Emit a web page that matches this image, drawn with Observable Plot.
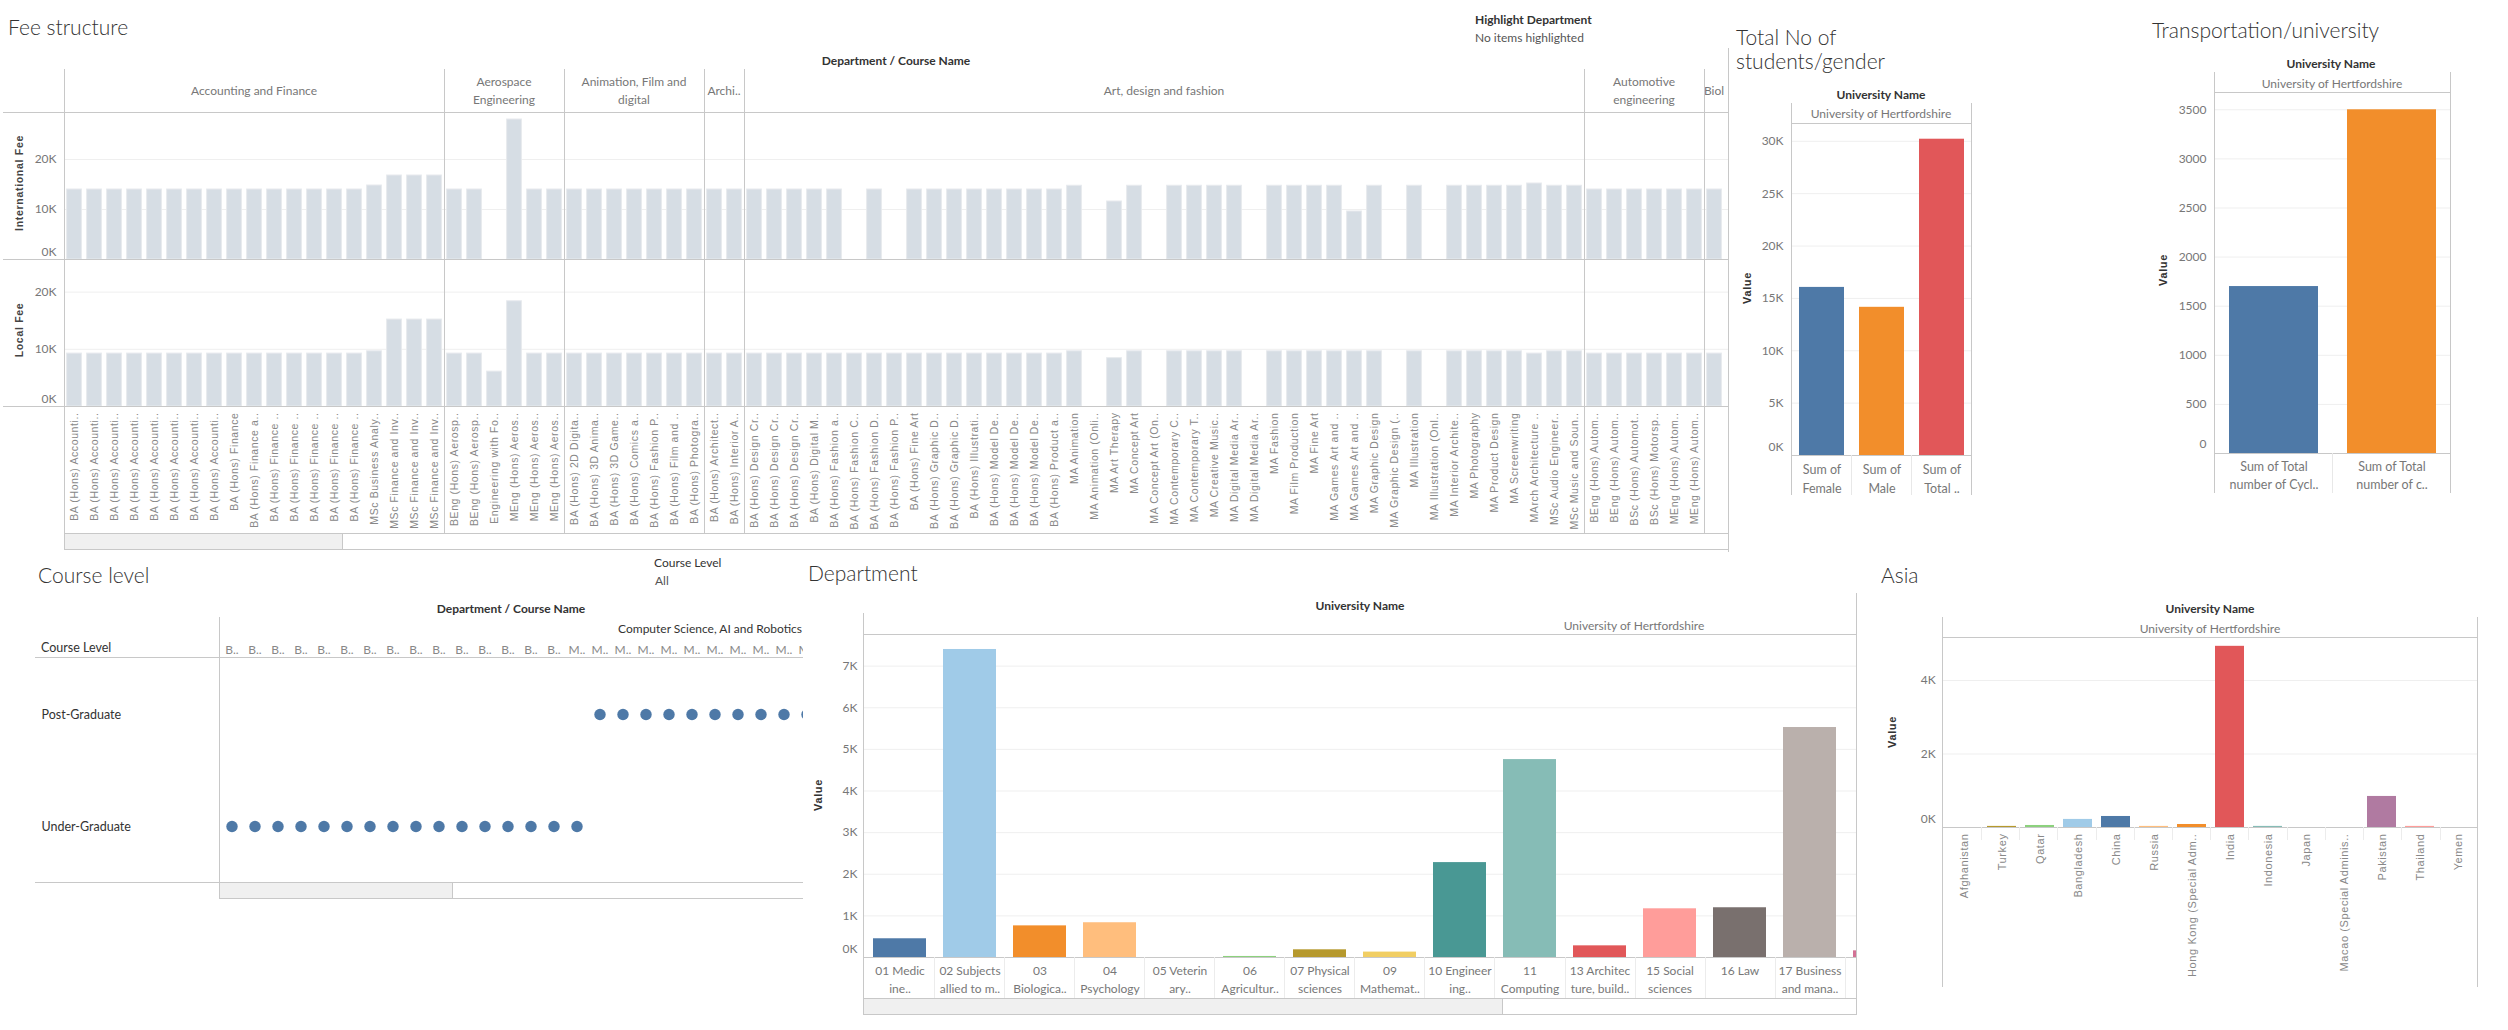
<!DOCTYPE html>
<html><head><meta charset="utf-8">
<script src="https://cdn.jsdelivr.net/npm/d3@7"></script>
<script src="https://cdn.jsdelivr.net/npm/@observablehq/plot@0.6"></script>
<style>
body{margin:0;background:#fff;}
#root{position:relative;width:2508px;height:1030px;overflow:hidden;font-family:Lato,"Open Sans",sans-serif;background:#fff;}
.rotlabels g[aria-label="x-axis tick label"] text{letter-spacing:0.6px;}
</style></head>
<body><div id="root"></div>
<script>
// ================= DATA =================
// Fee structure
const feeDepartments = ["Accounting and Finance", "Aerospace\nEngineering", "Animation, Film and\ndigital", "Archi..", "Art, design and fashion", "Automotive\nengineering", "Biol"];
const feeDeptCourseCounts = [19, 6, 7, 2, 42, 6, 1];
const courseNames = [
  "BA (Hons) Accounti..","BA (Hons) Accounti..","BA (Hons) Accounti..","BA (Hons) Accounti..","BA (Hons) Accounti..","BA (Hons) Accounti..","BA (Hons) Accounti..","BA (Hons) Accounti..",
  "BA (Hons) Finance","BA (Hons) Finance a..","BA (Hons) Finance ..","BA (Hons) Finance ..","BA (Hons) Finance ..","BA (Hons) Finance ..","BA (Hons) Finance ..",
  "MSc Business Analy..","MSc Finance and Inv..","MSc Finance and Inv..","MSc Finance and Inv..",
  "BEng (Hons) Aerosp..","BEng (Hons) Aerosp..","Engineering with Fo..","MEng (Hons) Aeros..","MEng (Hons) Aeros..","MEng (Hons) Aeros..",
  "BA (Hons) 2D Digita..","BA (Hons) 3D Anima..","BA (Hons) 3D Game..","BA (Hons) Comics a..","BA (Hons) Fashion P..","BA (Hons) Film and ..","BA (Hons) Photogra..",
  "BA (Hons) Architect..","BA (Hons) Interior A..",
  "BA (Hons) Design Cr..","BA (Hons) Design Cr..","BA (Hons) Design Cr..","BA (Hons) Digital M..","BA (Hons) Fashion a..","BA (Hons) Fashion C..","BA (Hons) Fashion D..","BA (Hons) Fashion P..",
  "BA (Hons) Fine Art","BA (Hons) Graphic D..","BA (Hons) Graphic D..","BA (Hons) Illustrati..","BA (Hons) Model De..","BA (Hons) Model De..","BA (Hons) Model De..","BA (Hons) Product a..",
  "MA Animation","MA Animation (Onli..","MA Art Therapy","MA Concept Art","MA Concept Art (On..","MA Contemporary C..","MA Contemporary T..","MA Creative Music..",
  "MA Digital Media Ar..","MA Digital Media Ar..","MA Fashion","MA Film Production","MA Fine Art","MA Games Art and ..","MA Games Art and ..","MA Graphic Design",
  "MA Graphic Design (..","MA Illustration","MA Illustration (Onl..","MA Interior Archite..","MA Photography","MA Product Design","MA Screenwriting",
  "MArch Architecture ..","MSc Audio Engineer..","MSc Music and Soun..",
  "BEng (Hons) Autom..","BEng (Hons) Autom..","BSc (Hons) Automot..","BSc (Hons) Motorsp..","MEng (Hons) Autom..","MEng (Hons) Autom..",
  ""
];
const internationalFee = [
  14000,14000,14000,14000,14000,14000,14000,14000,14000,14000,14000,14000,14000,14000,14000,
  14800,16800,16800,16800,
  14000,14000,null,28000,14000,14000,
  14000,14000,14000,14000,14000,14000,14000,
  14000,14000,
  14000,14000,14000,14000,14000,null,14000,null,14000,14000,14000,14000,14000,14000,14000,14000,
  14750,null,11600,14750,null,14750,14750,14750,14750,null,14750,14750,14750,14750,9600,14750,null,14750,null,14750,14750,14750,14750,15200,14750,14750,
  14000,14000,14000,14000,14000,14000,
  14000
];
const localFee = [
  9250,9250,9250,9250,9250,9250,9250,9250,9250,9250,9250,9250,9250,9250,9250,
  9650,15200,15200,15200,
  9250,9250,6100,18400,9250,9250,
  9250,9250,9250,9250,9250,9250,9250,
  9250,9250,
  9250,9250,9250,9250,9250,9250,9250,9250,9250,9250,9250,9250,9250,9250,9250,9250,
  9650,null,8450,9650,null,9650,9650,9650,9650,null,9650,9650,9650,9650,9650,9650,null,9650,null,9650,9650,9650,9650,9250,9650,9650,
  9250,9250,9250,9250,9250,9250,
  9250
];
const feeTicks = [0, 10000, 20000];

// Gender
const genderCategories = ["Sum of\nFemale", "Sum of\nMale", "Sum of\nTotal .."];
const genderValues = [16050, 14150, 30200];
const genderTicks = [0, 5000, 10000, 15000, 20000, 25000, 30000];

// Transportation
const transportCategories = ["Sum of Total\nnumber of Cycl..", "Sum of Total\nnumber of c.."];
const transportValues = [1700, 3500];
const transportTicks = [0, 500, 1000, 1500, 2000, 2500, 3000, 3500];

// Course level
const courseLevelLabels = ["B..","B..","B..","B..","B..","B..","B..","B..","B..","B..","B..","B..","B..","B..","B..",
  "M..","M..","M..","M..","M..","M..","M..","M..","M..","M..","M.."];
const courseLevels = ["Under-Graduate","Under-Graduate","Under-Graduate","Under-Graduate","Under-Graduate","Under-Graduate","Under-Graduate","Under-Graduate",
  "Under-Graduate","Under-Graduate","Under-Graduate","Under-Graduate","Under-Graduate","Under-Graduate","Under-Graduate","Under-Graduate",
  "Post-Graduate","Post-Graduate","Post-Graduate","Post-Graduate","Post-Graduate","Post-Graduate","Post-Graduate","Post-Graduate","Post-Graduate","Post-Graduate"];
const levelRows = ["Post-Graduate", "Under-Graduate"];

// Department (subject areas)
const subjectNames = ["01 Medicine and dentistry","02 Subjects allied to medicine","03 Biological and sport sciences","04 Psychology","05 Veterinary sciences",
  "06 Agriculture, food and related studies","07 Physical sciences","09 Mathematical sciences","10 Engineering and technology","11 Computing",
  "13 Architecture, building and planning","15 Social sciences","16 Law","17 Business and management","19 Language and area studies"];
const subjectLabels = ["01 Medic\nine..","02 Subjects\nallied to m..","03\nBiologica..","04\nPsychology","05 Veterin\nary..","06\nAgricultur..",
  "07 Physical\nsciences","09\nMathemat..","10 Engineer\ning..","11\nComputing","13 Architec\nture, build..","15 Social\nsciences","16 Law","17 Business\nand mana..",""];
const subjectValues = [450, 7400, 760, 835, 0, 25, 185, 130, 2280, 4755, 280, 1170, 1195, 5525, 160];
const subjectTicks = [0, 1000, 2000, 3000, 4000, 5000, 6000, 7000];

// Asia
const asiaCountries = ["Afghanistan","Turkey","Qatar","Bangladesh","China","Russia","Hong Kong (Special Adm..","India","Indonesia","Japan","Macao (Special Adminis..","Pakistan","Thailand","Yemen"];
const asiaValues = [0, 30, 55, 220, 300, 30, 82, 4930, 30, 0, 0, 845, 30, 0];
const asiaTicks = [0, 2000, 4000];

// ================= STYLES =================
const tableau20 = ["#4e79a7","#a0cbe8","#f28e2b","#ffbe7d","#59a14f","#8cd17d","#b6992d","#f1ce63","#499894","#86bcb6","#e15759","#ff9d9a","#79706e","#bab0ac","#d37295"];
const genderColors = ["#4e79a7","#f28e2b","#e15759"];
const transportColors = ["#4e79a7","#f28e2b"];
const asiaColors = ["#79706e","#b6992d","#8cd17d","#a0cbe8","#4e79a7","#ffbe7d","#f28e2b","#e15759","#86bcb6","#499894","#59a14f","#b07aa1","#ff9d9a","#9d7660"];
const LINE = "#c8c8c8", GRID = "#efefef", TICK = "#777", FEEBAR = "#d6dde4";
const FONT = "Lato, 'Open Sans', sans-serif";
const ROTFONT = "'Liberation Sans', Arial, sans-serif";
const baseStyle = {background: "transparent", maxWidth: "none", fontFamily: FONT, fontSize: "12px", overflow: "hidden", color: TICK};
const kFmt = d => `${d / 1000}K`;

// ================= HELPERS =================
const root = document.getElementById("root");
function add(el, parent = root) { parent.appendChild(el); return el; }
function text(s, x, y, o = {}, parent = root) {
  const d = document.createElement("div");
  d.textContent = s;
  const ax = o.anchor === "middle" ? "-50%" : o.anchor === "end" ? "-100%" : "0";
  d.style.cssText = `position:absolute;left:${x}px;top:${y}px;white-space:pre;line-height:${o.lh ?? 1.25};` +
    `font-family:${o.family ?? FONT};font-size:${o.size ?? 12}px;font-weight:${o.weight ?? 400};color:${o.color ?? "#333"};` +
    `letter-spacing:${o.ls ?? 0}px;text-align:${o.align ?? "left"};transform:translate(${ax},-50%)${o.rotate ? ` rotate(${o.rotate}deg)` : ""};`;
  return add(d, parent);
}
function box(x, y, w, h, css = "", parent = root) {
  const d = document.createElement("div");
  d.style.cssText = `position:absolute;left:${x}px;top:${y}px;width:${w}px;height:${h}px;box-sizing:border-box;${css}`;
  return add(d, parent);
}
const hline = (x1, x2, y, c = LINE) => box(x1, y, x2 - x1, 1, `background:${c}`);
const vline = (x, y1, y2, c = LINE) => box(x, y1, 1, y2 - y1, `background:${c}`);
function placePlot(svg, x, y, cls) { svg.style.position = "absolute"; svg.style.left = x + "px"; svg.style.top = y + "px"; if (cls) svg.classList.add(cls); return add(svg); }
const title = (s, x, y) => text(s, x, y, {size: 21, weight: 300, color: "#333"});
const valueLabel = (x, y, s = "Value") => text(s, x, y, {family: ROTFONT, size: 11, weight: 700, color: "#333", ls: 0.6, anchor: "middle", rotate: -90});
function yAxes(ticks, fmt, pad, dyZero) {
  return [
    Plot.axisY(ticks.filter(t => t > 0), {tickFormat: fmt, tickSize: 0, tickPadding: pad, fill: TICK, fontSize: 12, label: null}),
    Plot.axisY([0], {tickFormat: fmt, tickSize: 0, tickPadding: pad, fill: TICK, fontSize: 12, label: null, dy: dyZero})
  ];
}
function scrollbar(x1, x2, y, thumbEnd) {
  box(x1, y, x2 - x1, 17, `border-bottom:1px solid ${LINE};border-top:1px solid ${LINE};`);
  box(x1, y, thumbEnd - x1, 17, `background:#f0f0f0;border:1px solid ${LINE};`);
}

// ================= FEE STRUCTURE =================
const COLW = 20, FEE_LEFT = 64, FEE_RIGHT = 1728;
const visibleCols = (FEE_RIGHT - FEE_LEFT) / COLW;
const feeRows = courseNames.map((name, i) => ({i, name, intl: internationalFee[i], local: localFee[i]}));

title("Fee structure", 8, 27);
text("Highlight Department", 1475, 19, {weight: 700, color: "#333"});
text("No items highlighted", 1475, 37, {color: "#555"});
text("Department / Course Name", 896, 60, {weight: 700, anchor: "middle"});

// department header band
const hdrClip = box(FEE_LEFT, 69, FEE_RIGHT - FEE_LEFT, 43, "overflow:hidden;");
let cum = 0;
const deptBounds = [];
feeDepartments.forEach((dname, k) => {
  const w = feeDeptCourseCounts[k] * COLW;
  const cell = box(cum * COLW, 0, w, 43, `display:flex;align-items:center;justify-content:center;text-align:center;` +
    `font-size:12px;line-height:18px;color:${TICK};white-space:pre;overflow:visible;`, hdrClip);
  cell.textContent = dname;
  cum += feeDeptCourseCounts[k];
  deptBounds.push(cum);
});

const feeCommon = {width: FEE_RIGHT, marginLeft: FEE_LEFT, marginRight: 0, marginTop: 0, style: baseStyle};
const intlPlot = Plot.plot({
  ...feeCommon, height: 147, marginBottom: 0,
  x: {type: "linear", domain: [0, visibleCols], axis: null},
  y: {domain: [0, 29400], axis: null, label: null},
  marks: [
    Plot.gridY(feeTicks.filter(t => t > 0), {stroke: GRID, strokeOpacity: 1}),
    Plot.rectY(feeRows.filter(d => d.intl != null), {x1: d => d.i + 0.13, x2: d => d.i + 0.87, y1: 0, y2: "intl", fill: FEEBAR, stroke: "#e7eaee", strokeWidth: 1}),
    ...yAxes(feeTicks, kFmt, 8, -7)
  ]
});
placePlot(intlPlot, 0, 112);

const localPlot = Plot.plot({
  ...feeCommon, height: 147 + 127, marginBottom: 127,
  x: {type: "linear", domain: [0, visibleCols], axis: null},
  y: {domain: [0, 25700], axis: null, label: null},
  marks: [
    Plot.gridY(feeTicks.filter(t => t > 0), {stroke: GRID, strokeOpacity: 1}),
    Plot.rectY(feeRows.filter(d => d.local != null), {x1: d => d.i + 0.13, x2: d => d.i + 0.87, y1: 0, y2: "local", fill: FEEBAR, stroke: "#e7eaee", strokeWidth: 1}),
    ...yAxes(feeTicks, kFmt, 8, -7),
    Plot.axisX(courseNames.map((_, i) => i + 0.5), {tickFormat: t => courseNames[Math.floor(t)], tickRotate: -90, tickSize: 0, tickPadding: 6,
      fontSize: 10.5, fontFamily: ROTFONT, fill: "#888", label: null})
  ]
});
placePlot(localPlot, 0, 259, "rotlabels");

[112, 259, 406].forEach(y => hline(3, FEE_RIGHT, y));
vline(FEE_LEFT, 69, 533);
deptBounds.slice(0, -1).forEach(b => vline(FEE_LEFT + b * COLW, 69, 533));
vline(FEE_RIGHT, 48, 552);
scrollbar(FEE_LEFT, FEE_RIGHT, 533, 343);
text("International Fee", 20, 183, {family: ROTFONT, size: 10.5, weight: 700, color: "#444", ls: 0.7, anchor: "middle", rotate: -90});
text("Local Fee", 20, 330, {family: ROTFONT, size: 10.5, weight: 700, color: "#444", ls: 0.7, anchor: "middle", rotate: -90});

// ================= GENDER =================
text("Total No of\nstudents/gender", 1736, 49, {size: 21, weight: 300, lh: 1.15});
text("University Name", 1881, 94, {weight: 700, anchor: "middle"});
text("University of Hertfordshire", 1881, 113, {color: TICK, anchor: "middle"});
const genderRows = genderCategories.map((c, i) => ({c, v: genderValues[i], color: genderColors[i]}));
const genderPlot = Plot.plot({
  width: 231, height: 372, marginLeft: 51, marginRight: 0, marginTop: 0, marginBottom: 40, style: baseStyle,
  x: {domain: genderCategories, paddingInner: 0.25, paddingOuter: 0.125, axis: null},
  y: {domain: [0, 31700], axis: null, label: null},
  color: {type: "identity"},
  marks: [
    Plot.gridY(genderTicks.filter(t => t > 0), {stroke: GRID, strokeOpacity: 1}),
    Plot.barY(genderRows, {x: "c", y: "v", fill: "color"}),
    ...yAxes(genderTicks, kFmt, 8, -8),
    Plot.axisX({tickSize: 0, tickPadding: 5, fontSize: 12.5, lineHeight: 1.5, fill: TICK, label: null})
  ]
});
placePlot(genderPlot, 1740, 123);
vline(1791, 103, 495); vline(1971, 103, 495);
hline(1791, 1972, 123); hline(1791, 1972, 455);
vline(1851, 455, 495, "#e8e8e8"); vline(1911, 455, 495, "#e8e8e8");
valueLabel(1748, 288);

// ================= TRANSPORTATION =================
title("Transportation/university", 2152, 30);
text("University Name", 2331, 63, {weight: 700, anchor: "middle"});
text("University of Hertfordshire", 2332, 83, {color: TICK, anchor: "middle"});
const transportRows = transportCategories.map((c, i) => ({c, v: transportValues[i], color: transportColors[i]}));
const transportPlot = Plot.plot({
  width: 290, height: 403, marginLeft: 54, marginRight: 0, marginTop: 0, marginBottom: 42, style: baseStyle,
  x: {domain: transportCategories, paddingInner: 0.25, paddingOuter: 0.125, axis: null},
  y: {domain: [0, 3676], axis: null, label: null},
  color: {type: "identity"},
  marks: [
    Plot.gridY(transportTicks.filter(t => t > 0), {stroke: GRID, strokeOpacity: 1}),
    Plot.barY(transportRows, {x: "c", y: "v", fill: "color"}),
    ...yAxes(transportTicks, d => String(d), 8, -9),
    Plot.axisX({tickSize: 0, tickPadding: 5, fontSize: 12.5, lineHeight: 1.45, fill: TICK, label: null})
  ]
});
placePlot(transportPlot, 2160, 92);
vline(2214, 72, 493); vline(2450, 72, 493);
hline(2214, 2451, 92); hline(2214, 2451, 453);
vline(2332, 453, 493, "#e8e8e8");
valueLabel(2164, 270);

// ================= COURSE LEVEL =================
title("Course level", 38, 575);
text("Course Level", 654, 562, {color: "#333"});
text("All", 655, 580, {color: "#555"});
text("Department / Course Name", 511, 608, {weight: 700, anchor: "middle"});
text("Computer Science, AI and Robotics", 802, 628, {anchor: "end", color: "#333"});
text("Course Level", 41, 648, {color: "#333", size: 12.5});
const levelRowsData = courseLevels.map((lv, i) => ({i, lv}));
const levelPlot = Plot.plot({
  width: 773, height: 245, marginLeft: 189.6, marginRight: 0, marginTop: 20, marginBottom: 0, style: baseStyle,
  x: {type: "band", domain: courseLevelLabels.map((_, i) => i), range: [189.6, 189.6 + courseLevelLabels.length * 23], padding: 0, axis: null},
  y: {type: "band", domain: levelRows, range: [20, 245], padding: 0, axis: null},
  marks: [
    Plot.dot(levelRowsData, {x: "i", y: "lv", r: 5.7, fill: "#4e79a7", stroke: "none"}),
    Plot.axisX({anchor: "top", tickFormat: i => courseLevelLabels[i], tickSize: 0, tickPadding: 4, fontSize: 12, fill: "#888", label: null}),
    Plot.axisY({textAnchor: "start", dx: -178.6, tickSize: 0, tickPadding: 0, fontSize: 12.5, fill: "#333", label: null})
  ]
});
placePlot(levelPlot, 30, 637);
hline(35, 803, 657); hline(35, 803, 882);
vline(219, 617, 882);
scrollbar(219, 803, 882, 453);

// ================= DEPARTMENT =================
title("Department", 808, 573);
text("University Name", 1360, 605, {weight: 700, anchor: "middle"});
text("University of Hertfordshire", 1634, 625, {color: TICK, anchor: "middle"});
const subjectRows = subjectNames.map((s, i) => ({s, v: subjectValues[i], color: tableau20[i]}));
const deptPlot = Plot.plot({
  width: 1032, height: 365, marginLeft: 38.5, marginRight: 0, marginTop: 0, marginBottom: 42, style: baseStyle,
  x: {domain: subjectNames, range: [38.5, 38.5 + subjectNames.length * 70.1], paddingInner: 0.25, paddingOuter: 0.125, axis: null},
  y: {domain: [0, 7760], axis: null, label: null},
  color: {type: "identity"},
  marks: [
    Plot.gridY(subjectTicks.filter(t => t > 0), {stroke: GRID, strokeOpacity: 1}),
    Plot.barY(subjectRows, {x: "s", y: "v", fill: "color"}),
    ...yAxes(subjectTicks, kFmt, 6.5, -8),
    Plot.axisX(subjectNames.slice(0, 14), {tickFormat: s => subjectLabels[subjectNames.indexOf(s)], tickSize: 0, tickPadding: 5, fontSize: 12, lineHeight: 1.5, fill: TICK, label: null})
  ]
});
placePlot(deptPlot, 825, 634);
vline(863, 613, 1015); vline(1856, 593, 1015);
hline(863, 1857, 634); hline(863, 1857, 957);
subjectNames.slice(1, 15).forEach((_, k) => vline(863.5 + (k + 1) * 70.1, 957, 998, "#ececec"));
scrollbar(863, 1857, 998, 1503);
valueLabel(819, 795);

// ================= ASIA =================
title("Asia", 1881, 575);
text("University Name", 2210, 608, {weight: 700, anchor: "middle"});
text("University of Hertfordshire", 2210, 628, {color: TICK, anchor: "middle"});
const asiaRows = asiaCountries.map((c, i) => ({c, v: asiaValues[i], color: asiaColors[i]}));
const asiaPlot = Plot.plot({
  width: 578, height: 360, marginLeft: 42.6, marginRight: 0.4, marginTop: 0, marginBottom: 170, style: baseStyle,
  x: {domain: asiaCountries, paddingInner: 0.25, paddingOuter: 0.125, axis: null},
  y: {domain: [0, 5170], axis: null, label: null},
  color: {type: "identity"},
  marks: [
    Plot.gridY(asiaTicks.filter(t => t > 0), {stroke: GRID, strokeOpacity: 1}),
    Plot.barY(asiaRows.filter(d => d.v > 0), {x: "c", y: "v", fill: "color"}),
    ...yAxes(asiaTicks, kFmt, 7.5, -8),
    Plot.axisX({tickRotate: -90, tickSize: 0, tickPadding: 6, fontSize: 11, fontFamily: ROTFONT, fill: "#888", label: null})
  ]
});
placePlot(asiaPlot, 1900, 637, "rotlabels");
vline(1942, 617, 987); vline(2477, 617, 987);
hline(1942, 2478, 637); hline(1942, 2478, 827);
asiaCountries.slice(1).forEach((_, k) => vline(1942.6 + (k + 1) * 38.23, 827, 840, "#ececec"));
valueLabel(1893, 732);
</script>
</body></html>
